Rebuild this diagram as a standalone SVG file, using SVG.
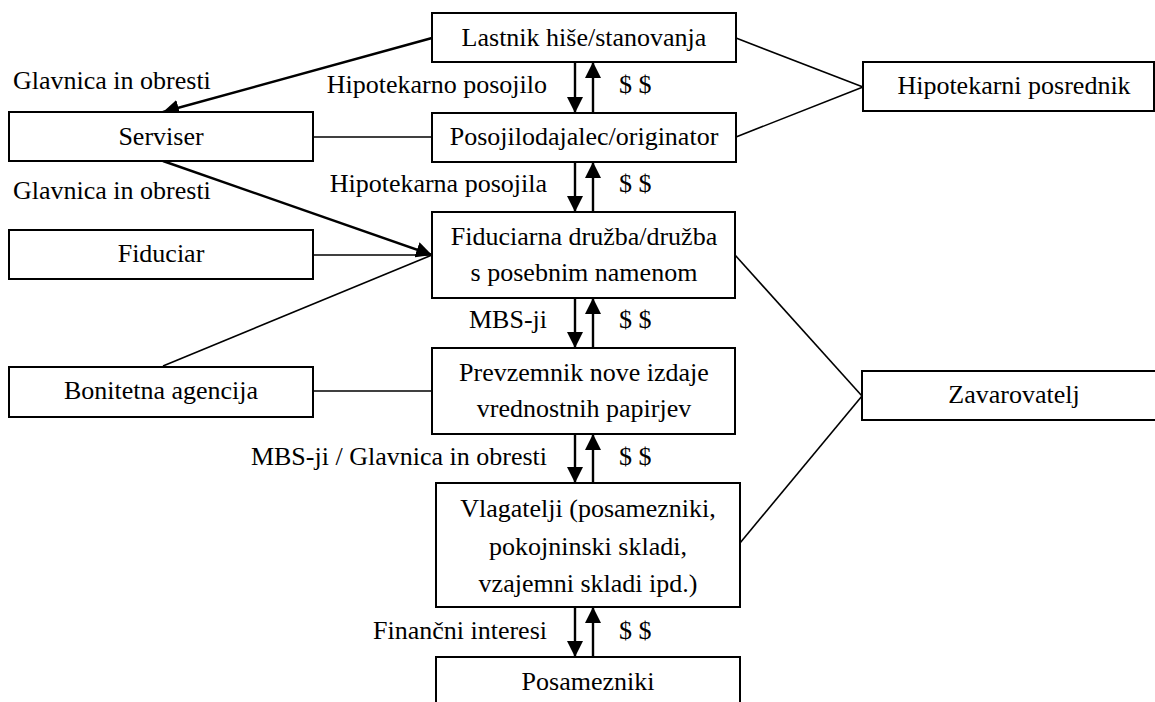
<svg xmlns="http://www.w3.org/2000/svg" width="1155" height="702" viewBox="0 0 1155 702">
  <style>
    .box { fill: #fff; stroke: #000; stroke-width: 2; }
    .lbl { font-family: "Liberation Serif", "Times New Roman", serif; font-size: 26px; fill: #000; }
    .mid { text-anchor: middle; }
    .end { text-anchor: end; }
    .flow { stroke: #000; stroke-width: 2.4; fill: none; }
    .link { stroke: #000; stroke-width: 1.6; fill: none; }
  </style>
  <defs>
    <marker id="head" viewBox="0 0 16 16" refX="16" refY="8" markerWidth="16" markerHeight="16" markerUnits="userSpaceOnUse" orient="auto">
      <path d="M0,0 L16,8 L0,16 z" fill="#000"/>
    </marker>
  </defs>
  <rect width="1155" height="702" fill="#fff"/>

  <!-- connectors -->
  <g id="connectors">
    <!-- owner -> servicer, servicer -> trust -->
    <line class="flow" x1="432" y1="38" x2="163" y2="112" marker-end="url(#head)"/>
    <line class="flow" x1="163" y1="161" x2="432" y2="255" marker-end="url(#head)"/>
    <!-- plain links on the left -->
    <line class="link" x1="313" y1="137" x2="432" y2="137"/>
    <line class="link" x1="313" y1="255" x2="432" y2="255"/>
    <line class="link" x1="163" y1="366" x2="432" y2="255"/>
    <line class="link" x1="313" y1="391" x2="432" y2="391"/>
    <!-- links on the right -->
    <line class="link" x1="736" y1="38" x2="863" y2="87"/>
    <line class="link" x1="736" y1="137" x2="863" y2="87"/>
    <line class="link" x1="735" y1="255" x2="862" y2="396"/>
    <line class="link" x1="740" y1="543" x2="862" y2="396"/>
    <!-- vertical flow pairs -->
    <line class="flow" x1="575" y1="62" x2="575" y2="113" marker-end="url(#head)"/>
    <line class="flow" x1="593" y1="113" x2="593" y2="62" marker-end="url(#head)"/>
    <line class="flow" x1="575" y1="162" x2="575" y2="212" marker-end="url(#head)"/>
    <line class="flow" x1="593" y1="212" x2="593" y2="162" marker-end="url(#head)"/>
    <line class="flow" x1="575" y1="298" x2="575" y2="348" marker-end="url(#head)"/>
    <line class="flow" x1="593" y1="348" x2="593" y2="298" marker-end="url(#head)"/>
    <line class="flow" x1="575" y1="434" x2="575" y2="483" marker-end="url(#head)"/>
    <line class="flow" x1="593" y1="483" x2="593" y2="434" marker-end="url(#head)"/>
    <line class="flow" x1="575" y1="607" x2="575" y2="657" marker-end="url(#head)"/>
    <line class="flow" x1="593" y1="657" x2="593" y2="607" marker-end="url(#head)"/>
  </g>

  <!-- flow labels -->
  <g id="flow-labels">
    <text class="lbl" x="13" y="89">Glavnica in obresti</text>
    <text class="lbl end" x="547" y="93">Hipotekarno posojilo</text>
    <text class="lbl" x="619" y="93">$ $</text>
    <text class="lbl" x="13" y="199">Glavnica in obresti</text>
    <text class="lbl end" x="547" y="192">Hipotekarna posojila</text>
    <text class="lbl" x="619" y="192">$ $</text>
    <text class="lbl end" x="547" y="328">MBS-ji</text>
    <text class="lbl" x="619" y="328">$ $</text>
    <text class="lbl end" x="547" y="465">MBS-ji / Glavnica in obresti</text>
    <text class="lbl" x="619" y="465">$ $</text>
    <text class="lbl end" x="547" y="639">Finančni interesi</text>
    <text class="lbl" x="619" y="639">$ $</text>
  </g>

  <!-- nodes -->
  <g id="lastnik">
    <rect class="box" x="432" y="13" width="304" height="49"/>
    <text class="lbl mid" x="584" y="46">Lastnik hiše/stanovanja</text>
  </g>
  <g id="posojilodajalec">
    <rect class="box" x="432" y="113" width="304" height="49"/>
    <text class="lbl mid" x="584" y="145">Posojilodajalec/originator</text>
  </g>
  <g id="posrednik">
    <rect class="box" x="863" y="62" width="291" height="49"/>
    <text class="lbl mid" x="1014" y="94">Hipotekarni posrednik</text>
  </g>
  <g id="serviser">
    <rect class="box" x="9" y="112" width="304" height="49"/>
    <text class="lbl mid" x="161" y="145">Serviser</text>
  </g>
  <g id="fiduciar">
    <rect class="box" x="9" y="230" width="304" height="49"/>
    <text class="lbl mid" x="161" y="262">Fiduciar</text>
  </g>
  <g id="bonitetna">
    <rect class="box" x="9" y="367" width="304" height="50"/>
    <text class="lbl mid" x="161" y="399">Bonitetna agencija</text>
  </g>
  <g id="fiduciarna-druzba">
    <rect class="box" x="432" y="212" width="303" height="86"/>
    <text class="lbl mid" x="584" y="245">Fiduciarna družba/družba</text>
    <text class="lbl mid" x="584" y="281">s posebnim namenom</text>
  </g>
  <g id="prevzemnik">
    <rect class="box" x="432" y="348" width="303" height="86"/>
    <text class="lbl mid" x="584" y="381">Prevzemnik nove izdaje</text>
    <text class="lbl mid" x="584" y="417">vrednostnih papirjev</text>
  </g>
  <g id="zavarovatelj">
    <rect class="box" x="862" y="371" width="300" height="49"/>
    <text class="lbl mid" x="1014" y="403">Zavarovatelj</text>
  </g>
  <g id="vlagatelji">
    <rect class="box" x="436" y="483" width="304" height="124"/>
    <text class="lbl mid" x="588" y="517">Vlagatelji (posamezniki,</text>
    <text class="lbl mid" x="588" y="555">pokojninski skladi,</text>
    <text class="lbl mid" x="588" y="592">vzajemni skladi ipd.)</text>
  </g>
  <g id="posamezniki">
    <rect class="box" x="436" y="657" width="304" height="60"/>
    <text class="lbl mid" x="588" y="690">Posamezniki</text>
  </g>
</svg>
